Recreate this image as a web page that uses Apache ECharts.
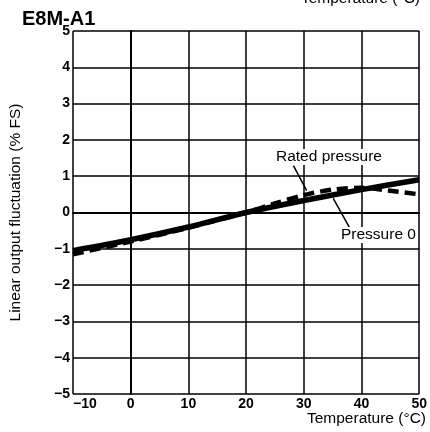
<!DOCTYPE html>
<html>
<head>
<meta charset="utf-8">
<script src="https://cdn.jsdelivr.net/npm/echarts@6/dist/echarts.min.js"></script>
<style>
html,body{margin:0;padding:0;background:#fff;}
#chart{width:430px;height:432px;}
</style>
</head>
<body>
<div id="chart"></div>
<script>
// temperature (°C) vs linear output fluctuation (% FS)
const ratedTemp = [-10, 0, 10, 20, 30, 40, 50];
const ratedVal = [-1.05, -0.75, -0.4, 0.0, 0.33, 0.63, 0.9];
const zeroTemp = [-10, 0, 10, 20, 25, 30, 35, 40, 45, 50];
const zeroVal = [-1.15, -0.8, -0.42, 0.0, 0.25, 0.48, 0.63, 0.68, 0.6, 0.5];
const xTicks = [-10, 0, 10, 20, 30, 40, 50];
const yTicks = [-5, -4, -3, -2, -1, 0, 1, 2, 3, 4, 5];
// leader lines (data coords)
const ratedLeader = [[28.2, 1.29], [30.5, 0.6]];
const zeroLeader = [[35.1, 0.39], [37.9, -0.41]];

const minus = v => String(v).replace('-', '\u2212');
const pair = (a, b) => a.map((t, i) => [t, b[i]]);

const tickFont = { color: '#000', fontFamily: 'Liberation Sans', fontWeight: 'bold', fontSize: 14 };
const txtFont = '15.5px "Liberation Sans"';

const chart = echarts.init(document.getElementById('chart'));

chart.setOption({
    animation: false,
    grid: { left: 66, top: 31, width: 365, height: 363 },
    xAxis: {
        type: 'value', min: -10, max: 50, interval: 10,
        axisLine: { show: true, lineStyle: { color: '#000', width: 2 } },
        axisTick: { show: false },
        splitLine: { show: true, lineStyle: { color: '#000', width: 1.5 } },
        axisLabel: Object.assign({}, tickFont, {
            margin: 3, alignMinLabel: 'left',
            formatter: v => xTicks.includes(v) ? minus(v) : ''
        })
    },
    yAxis: {
        type: 'value', min: -5, max: 5, interval: 1,
        axisLine: { show: true, lineStyle: { color: '#000', width: 2 } },
        axisTick: { show: false },
        splitLine: { show: true, lineStyle: { color: '#000', width: 1.5 } },
        axisLabel: Object.assign({}, tickFont, {
            margin: 3,
            formatter: v => yTicks.includes(v) ? minus(v) : ''
        }),
        name: 'Linear output fluctuation (% FS)',
        nameLocation: 'middle', nameGap: 49,
        nameTextStyle: { color: '#000', fontFamily: 'Liberation Sans', fontSize: 15.5 }
    },
    series: [
        {
            name: 'Rated pressure', type: 'line', data: pair(ratedTemp, ratedVal),
            symbol: 'none', smooth: 0.3,
            lineStyle: { color: '#000', width: 5.5 },
            markLine: {
                silent: true, symbol: 'none',
                lineStyle: { color: '#000', width: 1.5, type: 'solid' },
                label: { show: false },
                data: [[{ coord: ratedLeader[0] }, { coord: ratedLeader[1] }]]
            }
        },
        {
            name: 'Pressure 0', type: 'line', data: pair(zeroTemp, zeroVal),
            symbol: 'none', smooth: 0.3,
            lineStyle: { color: '#000', width: 4.5, type: [11, 6] },
            markLine: {
                silent: true, symbol: 'none',
                lineStyle: { color: '#000', width: 1.5, type: 'solid' },
                label: { show: false },
                data: [[{ coord: zeroLeader[0] }, { coord: zeroLeader[1] }]]
            }
        }
    ],
    graphic: [
        { type: 'text', left: 22, top: 9, style: { text: 'E8M-A1', font: 'bold 20px "Liberation Sans"', fill: '#000' } },
        { type: 'text', right: 10, top: -9, style: { text: 'Temperature (\u00B0C)', font: txtFont, fill: '#000' } },
        { type: 'text', right: 4, top: 411, style: { text: 'Temperature (\u00B0C)', font: txtFont, fill: '#000' } },
        { type: 'text', left: 276, top: 149, z: 10, style: { text: 'Rated pressure', font: txtFont, fill: '#000', backgroundColor: '#fff' } },
        { type: 'text', left: 341, top: 227, z: 10, style: { text: 'Pressure 0', font: txtFont, fill: '#000', backgroundColor: '#fff' } }
    ]
});
</script>
</body>
</html>
